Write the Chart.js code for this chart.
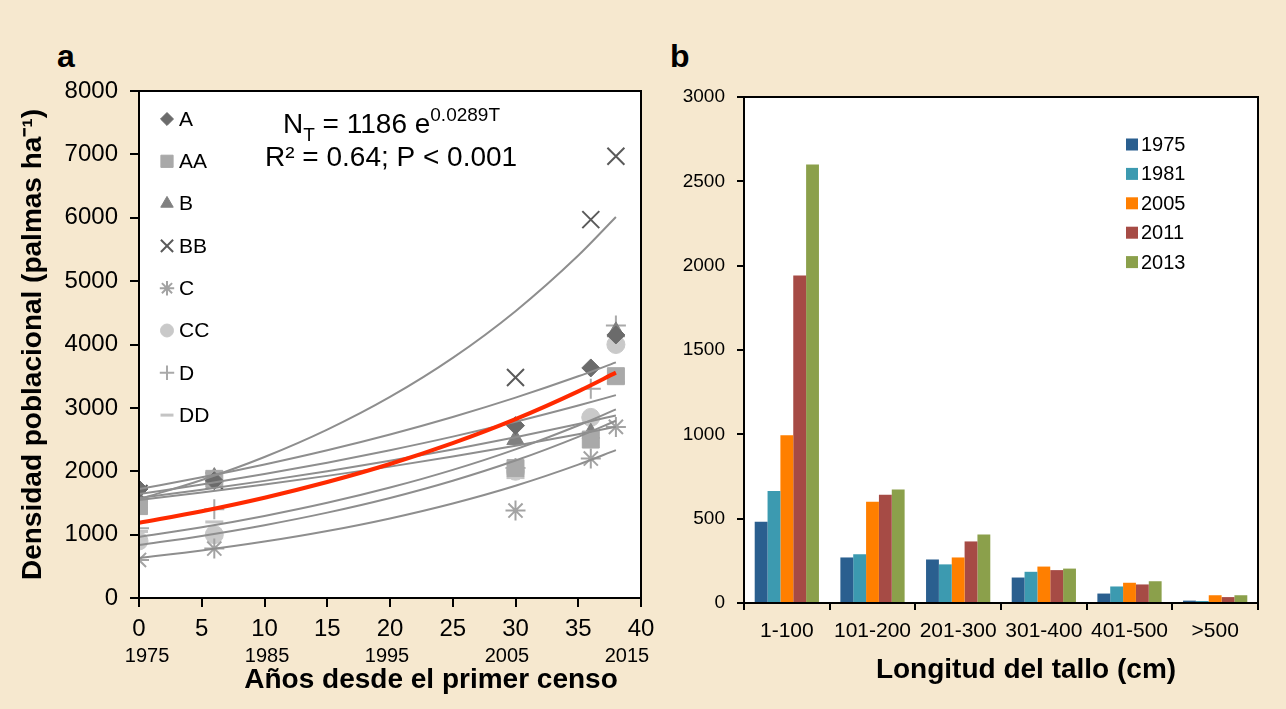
<!DOCTYPE html>
<html>
<head>
<meta charset="utf-8">
<script src="https://cdn.jsdelivr.net/npm/chart.js@4.4.1/dist/chart.umd.min.js"></script>
<style>
  html, body { margin: 0; padding: 0; background: #F6E8CF; overflow: hidden; }
  body { width: 1286px; height: 709px; position: relative; font-family: 'Liberation Sans', Arial, sans-serif; }
  canvas { position: absolute; top: 0; }
  .panel { position: absolute; font-weight: bold; font-size: 32px; line-height: 1; color: #000; }
</style>
</head>
<body>
<div class="panel" style="left:57px; top:40px;">a</div>
<div class="panel" style="left:670px; top:40px;">b</div>
<canvas id="chartA" width="670" height="709" style="left:0"></canvas>
<canvas id="chartB" width="616" height="709" style="left:670px"></canvas>
<script>
// ---- panel a: density per plot over time ----
const censusT = [0, 6, 30, 36, 38];
const yearTickT = [0, 10, 20, 30, 40];
const yearTicks = ['1975', '1985', '1995', '2005', '2015'];
const plotNames = ['A', 'AA', 'B', 'BB', 'C', 'CC', 'D', 'DD'];
const plotA  = [1720, 1850, 2720, 3630, 4150];
const plotAA = [1450, 1880, 2050, 2500, 3500];
const plotB  = [1500, 1900, 2500, 2600, 4200];
const plotBB = [1650, 1850, 3480, 5970, 6970];
const plotC  = [600, 780, 1380, 2200, 2700];
const plotCC = [900, 1000, 2000, 2850, 4000];
const plotD  = [1100, 1400, 2050, 3300, 4300];
const plotDD = [1050, 1200, 1900, 2850, 3400];

// fitted curves
const fitT = [0, 5, 10, 15, 20, 25, 30, 35, 38];
const fitAll = [1186, 1370, 1583, 1830, 2114, 2443, 2822, 3261, 3556];
const fitCurves = [
  [1560, 1863, 2225, 2657, 3173, 3789, 4526, 5404, 6012],
  [1720, 1904, 2107, 2331, 2580, 2856, 3161, 3498, 3718],
  [1640, 1791, 1956, 2135, 2332, 2546, 2781, 3037, 3201],
  [1577, 1707, 1848, 2000, 2165, 2344, 2537, 2746, 2880],
  [1546, 1664, 1790, 1927, 2073, 2231, 2401, 2584, 2700],
  [962, 1116, 1295, 1502, 1743, 2022, 2346, 2722, 2976],
  [836, 980, 1149, 1347, 1578, 1850, 2169, 2543, 2797],
  [631, 750, 890, 1057, 1256, 1492, 1772, 2105, 2334]
];

// ---- panel b: stem length classes ----
const stemClasses = ['1-100', '101-200', '201-300', '301-400', '401-500', '>500'];
const censusYears = ['1975', '1981', '2005', '2011', '2013'];
const n1975 = [481, 270, 258, 151, 56, 14];
const n1981 = [664, 289, 229, 185, 98, 12];
const n2005 = [994, 601, 270, 216, 120, 46];
const n2011 = [1941, 642, 365, 195, 110, 35];
const n2013 = [2600, 673, 406, 204, 129, 46];

Chart.defaults.font.family = "'Liberation Sans', Arial, sans-serif";
Chart.defaults.color = '#000';

const markerStyles = [
  { style: 'rectRot',  color: '#6B6B6B', r: 9,  bw: 1 },
  { style: 'rect',     color: '#A9A9A9', r: 12, bw: 1 },
  { style: 'triangle', color: '#808080', r: 10, bw: 1 },
  { style: 'crossRot', color: '#5A5A5A', r: 12, bw: 2 },
  { style: 'star',     color: '#A3A3A3', r: 10, bw: 2 },
  { style: 'circle',   color: '#C9C9C9', r: 9,  bw: 1 },
  { style: 'cross',    color: '#A9A9A9', r: 10, bw: 2 },
  { style: 'line',     color: '#C4C4C4', r: 9,  bw: 3 }
];
const plotValues = [plotA, plotAA, plotB, plotBB, plotC, plotCC, plotD, plotDD];

const toXY = (xs, ys) => xs.map((x, i) => ({ x: x, y: ys[i] }));

const lineSets = [{
  type: 'line', label: 'ajuste', data: toXY(fitT, fitAll),
  borderColor: '#FF2A00', borderWidth: 4, pointRadius: 0,
  cubicInterpolationMode: 'monotone', fill: false
}].concat(fitCurves.map(c => ({
  type: 'line', label: 'ajuste parcela', data: toXY(fitT, c),
  borderColor: '#8E8E8E', borderWidth: 2, pointRadius: 0,
  cubicInterpolationMode: 'monotone', fill: false
})));

const pointSets = plotNames.map((name, i) => ({
  type: 'scatter', label: name, data: toXY(censusT, plotValues[i]),
  pointStyle: markerStyles[i].style, pointRadius: markerStyles[i].r,
  backgroundColor: markerStyles[i].color, borderColor: markerStyles[i].color,
  borderWidth: markerStyles[i].bw, isMarker: true
}));

// white plot background and black frame
const plotFrame = {
  id: 'plotFrame',
  beforeDraw(chart) {
    const a = chart.chartArea, c = chart.ctx;
    c.save();
    c.fillStyle = '#fff';
    c.fillRect(a.left, a.top, a.right - a.left, a.bottom - a.top);
    c.restore();
  },
  afterDraw(chart) {
    const a = chart.chartArea, c = chart.ctx;
    c.save();
    c.strokeStyle = '#000';
    c.lineWidth = 2;
    c.strokeRect(a.left, a.top, a.right - a.left, a.bottom - a.top);
    c.restore();
  }
};

// x axis titles sit a little right of the plot centre in the original
const xTitle = {
  id: 'xTitle',
  afterDraw(chart, args, opts) {
    const c = chart.ctx;
    c.save();
    c.fillStyle = '#000';
    c.font = "bold 28px 'Liberation Sans', Arial";
    c.textAlign = 'center';
    c.textBaseline = 'middle';
    c.fillText(opts.text, opts.x, opts.y);
    c.restore();
  }
};

const equation = {
  id: 'equation',
  afterDraw(chart) {
    const c = chart.ctx;
    c.save();
    c.fillStyle = '#000';
    c.textBaseline = 'alphabetic';
    c.textAlign = 'left';
    const big = "28px 'Liberation Sans', Arial", small = "19px 'Liberation Sans', Arial";
    let x = 283;
    c.font = big; c.fillText('N', x, 133); x += c.measureText('N').width;
    c.font = small; c.fillText('T', x, 141); x += c.measureText('T').width;
    c.font = big; c.fillText(' = 1186 e', x, 133); x += c.measureText(' = 1186 e').width;
    c.font = small; c.fillText('0.0289T', x, 121);
    c.font = big; c.fillText('R² = 0.64; P < 0.001', 265, 166);
    c.restore();
  }
};

const markerLegend = {
  id: 'markerLegend',
  afterDraw(chart) {
    const c = chart.ctx;
    c.save();
    let row = 0;
    chart.data.datasets.forEach(ds => {
      if (!ds.isMarker) return;
      const y = 119 + row * 42.3;
      c.fillStyle = ds.backgroundColor;
      c.strokeStyle = ds.borderColor;
      c.lineWidth = ds.borderWidth;
      Chart.helpers.drawPoint(c, { pointStyle: ds.pointStyle, radius: ds.pointRadius * 0.72, rotation: 0, borderWidth: ds.borderWidth }, 167, y);
      c.fillStyle = '#000';
      c.font = "21px 'Liberation Sans', Arial";
      c.textBaseline = 'middle';
      c.textAlign = 'left';
      c.fillText(ds.label, 179, y + 1);
      row++;
    });
    c.restore();
  }
};

const axisBase = {
  grid: { drawOnChartArea: false, drawTicks: true, color: '#000', lineWidth: 2 },
  border: { color: '#000', width: 2 }
};
const plainNumber = v => String(v);

new Chart(document.getElementById('chartA'), {
  type: 'scatter',
  data: { datasets: lineSets.concat(pointSets) },
  options: {
    responsive: false,
    animation: false,
    layout: { padding: { top: 91, right: 29, bottom: 0, left: 0 } },
    plugins: {
      legend: { display: false }, tooltip: { enabled: false },
      xTitle: { text: 'Años desde el primer censo', x: 431, y: 680 }
    },
    scales: {
      x: {
        type: 'linear', position: 'bottom', min: 0, max: 40,
        ticks: { stepSize: 5, font: { size: 24 }, color: '#000', padding: 8, callback: plainNumber },
        grid: Object.assign({}, axisBase.grid, { tickLength: 9 }),
        border: axisBase.border,
        afterFit: s => { s.height = 46; }
      },
      // calendar years, set slightly inward as in the original
      x2: {
        type: 'linear', position: 'bottom', min: -0.67, max: 41.17,
        ticks: { font: { size: 20 }, color: '#000', padding: 0,
                 callback: (v, i) => yearTicks[i] },
        afterBuildTicks: s => { s.ticks = yearTickT.map(v => ({ value: v })); },
        grid: { display: false, drawTicks: false, tickLength: 0 },
        border: { display: false },
        afterFit: s => { s.height = 65; }
      },
      y: {
        min: 0, max: 8000,
        ticks: { stepSize: 1000, font: { size: 24 }, color: '#000', padding: 12, callback: plainNumber },
        grid: Object.assign({}, axisBase.grid, { tickLength: 9 }),
        border: axisBase.border,
        title: { display: true, text: 'Densidad poblacional (palmas ha⁻¹)',
                 font: { size: 28, weight: 'bold' }, color: '#000', padding: { top: 16, bottom: 0 } },
        afterFit: s => { s.width = 139; }
      }
    }
  },
  plugins: [plotFrame, equation, markerLegend, xTitle]
});

// ---- panel b ----
const barColors = ['#2A5F8F', '#3C9AB0', '#FF7F00', '#A64B45', '#8BA04B'];
const barValues = [n1975, n1981, n2005, n2011, n2013];

const boxLegend = {
  id: 'boxLegend',
  afterDraw(chart) {
    const c = chart.ctx;
    const left = 1126 - 670;
    c.save();
    chart.data.datasets.forEach((ds, i) => {
      const y = 144.5 + i * 29.4;
      c.fillStyle = ds.backgroundColor;
      c.fillRect(left, y - 6, 12, 12);
      c.fillStyle = '#000';
      c.font = "20px 'Liberation Sans', Arial";
      c.textBaseline = 'middle';
      c.textAlign = 'left';
      c.fillText(ds.label, left + 15, y + 1);
    });
    c.restore();
  }
};

new Chart(document.getElementById('chartB'), {
  type: 'bar',
  data: {
    labels: stemClasses,
    datasets: censusYears.map((yr, i) => ({
      label: yr, data: barValues[i], backgroundColor: barColors[i], borderWidth: 0
    }))
  },
  options: {
    responsive: false,
    animation: false,
    layout: { padding: { top: 97, right: 28, bottom: 0, left: 0 } },
    datasets: { bar: { categoryPercentage: 0.75, barPercentage: 1 } },
    plugins: {
      legend: { display: false }, tooltip: { enabled: false },
      xTitle: { text: 'Longitud del tallo (cm)', x: 1026 - 670, y: 670 }
    },
    scales: {
      x: {
        ticks: { font: { size: 21 }, color: '#000', padding: 9 },
        grid: Object.assign({}, axisBase.grid, { tickLength: 7, offset: true }),
        border: axisBase.border,
        afterFit: s => { s.height = 106; }
      },
      y: {
        min: 0, max: 3000,
        ticks: { stepSize: 500, font: { size: 19 }, color: '#000', padding: 12, callback: plainNumber },
        grid: Object.assign({}, axisBase.grid, { tickLength: 7 }),
        border: axisBase.border,
        afterFit: s => { s.width = 74; }
      }
    }
  },
  plugins: [plotFrame, boxLegend, xTitle]
});
</script>
</body>
</html>
